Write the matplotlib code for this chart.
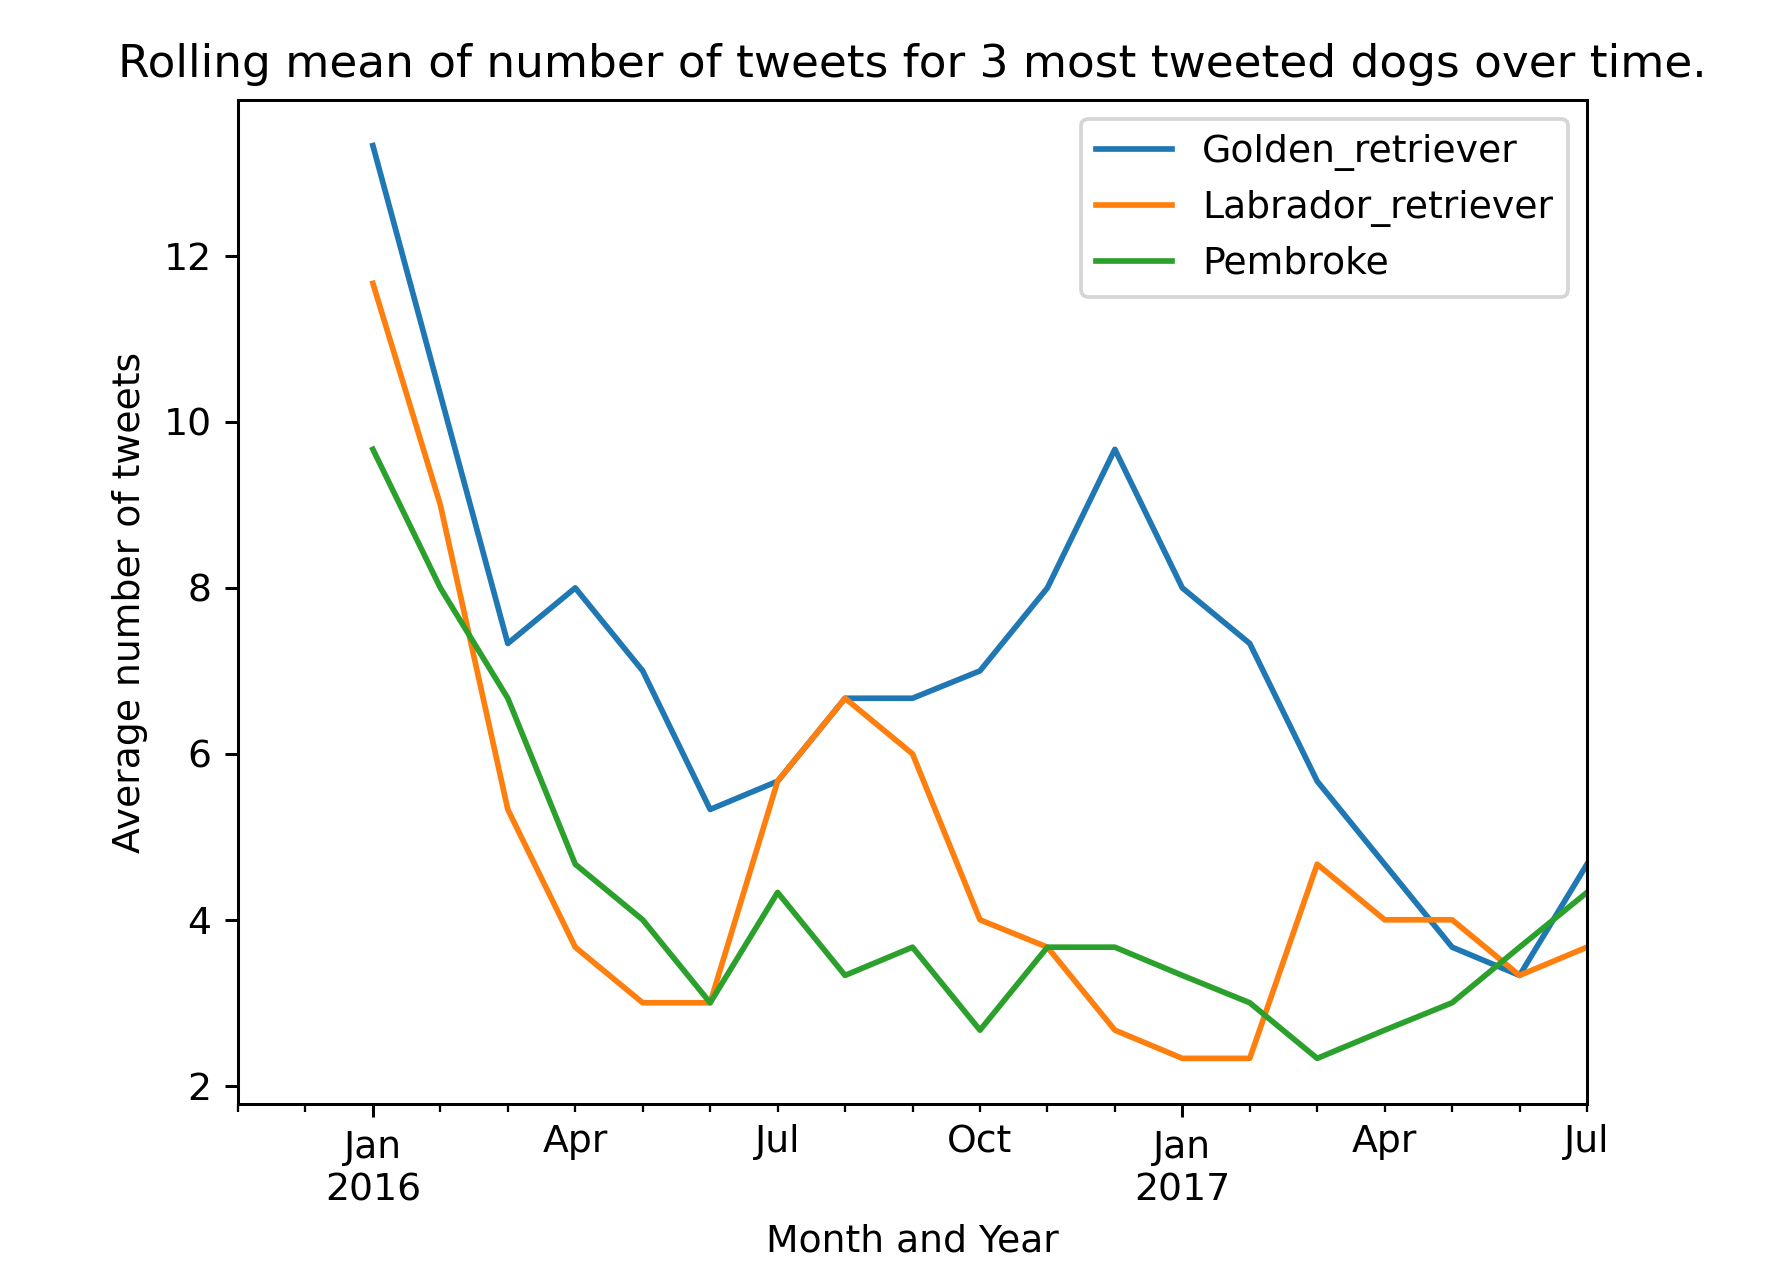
import numpy as np
import pandas as pd
import matplotlib
matplotlib.use("Agg")
import matplotlib.pyplot as plt

months = pd.period_range("2015-11", "2017-07", freq="M")
nan = np.nan
golden = [nan, nan, 13.33, 10.33, 7.33, 8.0, 7.0, 5.33, 5.67, 6.67, 6.67, 7.0,
          8.0, 9.67, 8.0, 7.33, 5.67, 4.67, 3.67, 3.33, 4.67]
labrador = [nan, nan, 11.67, 9.0, 5.33, 3.67, 3.0, 3.0, 5.67, 6.67, 6.0, 4.0,
            3.67, 2.67, 2.33, 2.33, 4.67, 4.0, 4.0, 3.33, 3.67]
pembroke = [nan, nan, 9.67, 8.0, 6.67, 4.67, 4.0, 3.0, 4.33, 3.33, 3.67, 2.67,
            3.67, 3.67, 3.33, 3.0, 2.33, 2.67, 3.0, 3.67, 4.33]

df = pd.DataFrame({"Golden_retriever": golden,
                   "Labrador_retriever": labrador,
                   "Pembroke": pembroke}, index=months)

dpi = 272
fig = plt.figure(figsize=(1790 / dpi, 1276 / dpi), dpi=dpi)
ax = fig.add_axes([238 / 1790, 1 - 1104 / 1276, (1587 - 238) / 1790, (1104 - 100) / 1276])
df.plot(ax=ax)
ax.set_title("Rolling mean of number of tweets for 3 most tweeted dogs over time.")
ax.set_xlabel("Month and Year")
ax.set_ylabel("Average number of tweets")
fig.savefig("out.png", dpi=dpi)
